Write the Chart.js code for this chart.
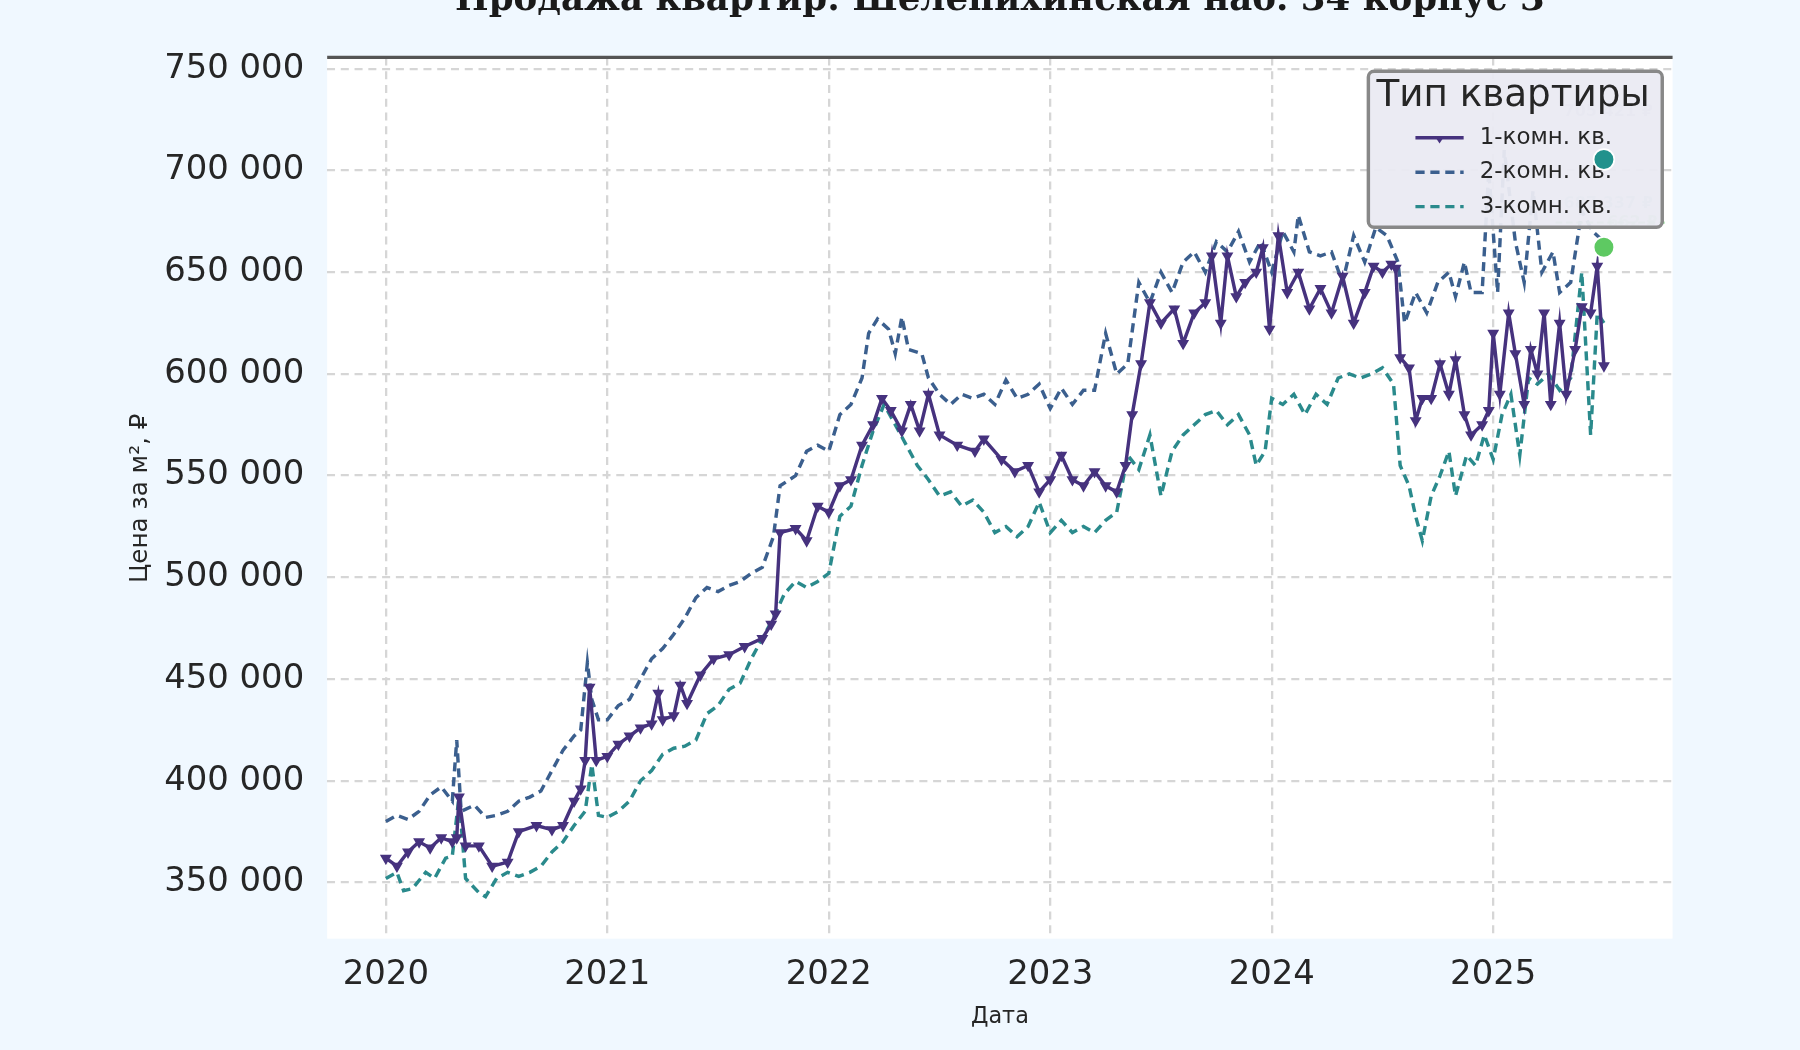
<!DOCTYPE html>
<html><head><meta charset="utf-8">
<script src="https://cdn.jsdelivr.net/npm/chart.js@4"></script>
<style>html,body{margin:0;padding:0;background:#f0f8ff;}canvas{display:block;}</style>
</head><body>
<canvas id="c" width="1800" height="1050"></canvas>
<script>
const title = "Продажа квартир: Шелепихинская наб. 34 корпус 3";
const seriesNames = ["1-комн. кв.", "2-комн. кв.", "3-комн. кв."];
const xTicks = [2020, 2021, 2022, 2023, 2024, 2025];
const yTicks = [350000, 400000, 450000, 500000, 550000, 600000, 650000, 700000, 750000];
// [year, thousand rubles]
const room1 = [[2020.0,362],[2020.05,358],[2020.1,365],[2020.15,370],[2020.2,367],[2020.25,372],[2020.3,370],[2020.32,372],[2020.33,392],[2020.36,368],[2020.42,368],[2020.48,358],[2020.55,360],[2020.6,375],[2020.68,378],[2020.75,376],[2020.8,378],[2020.85,390],[2020.88,396],[2020.9,410],[2020.92,446],[2020.95,410],[2021.0,412],[2021.05,418],[2021.1,422],[2021.15,426],[2021.2,428],[2021.23,443],[2021.25,430],[2021.3,432],[2021.33,447],[2021.36,438],[2021.42,452],[2021.48,460],[2021.55,462],[2021.62,466],[2021.7,470],[2021.74,477],[2021.76,482],[2021.78,522],[2021.85,524],[2021.9,518],[2021.95,535],[2022.0,532],[2022.05,545],[2022.1,548],[2022.15,565],[2022.2,575],[2022.24,588],[2022.28,582],[2022.33,572],[2022.37,585],[2022.41,572],[2022.45,590],[2022.5,570],[2022.58,565],[2022.66,562],[2022.7,568],[2022.78,558],[2022.84,552],[2022.9,555],[2022.95,542],[2023.0,548],[2023.05,560],[2023.1,548],[2023.15,545],[2023.2,552],[2023.25,545],[2023.3,542],[2023.34,555],[2023.37,580],[2023.41,605],[2023.45,635],[2023.5,625],[2023.56,632],[2023.6,615],[2023.65,630],[2023.7,635],[2023.73,658],[2023.77,625],[2023.8,658],[2023.84,638],[2023.88,645],[2023.93,650],[2023.96,662],[2023.99,622],[2024.03,668],[2024.07,640],[2024.12,650],[2024.17,632],[2024.22,642],[2024.27,630],[2024.32,648],[2024.37,625],[2024.42,640],[2024.46,653],[2024.5,650],[2024.54,654],[2024.56,652],[2024.58,608],[2024.62,603],[2024.65,577],[2024.68,588],[2024.72,588],[2024.76,605],[2024.8,590],[2024.83,607],[2024.87,580],[2024.9,570],[2024.95,575],[2024.98,582],[2025.0,620],[2025.03,590],[2025.07,630],[2025.1,610],[2025.14,585],[2025.17,612],[2025.2,600],[2025.23,630],[2025.26,585],[2025.3,625],[2025.33,590],[2025.37,612],[2025.4,633],[2025.44,630],[2025.47,653],[2025.5,604]];
const room2 = [[2020.0,380],[2020.05,383],[2020.1,381],[2020.15,385],[2020.2,393],[2020.25,397],[2020.3,390],[2020.32,420],[2020.34,385],[2020.4,388],[2020.45,382],[2020.5,383],[2020.55,385],[2020.6,390],[2020.65,392],[2020.7,395],[2020.75,405],[2020.8,415],[2020.85,422],[2020.88,425],[2020.91,458],[2020.93,440],[2020.96,430],[2021.0,430],[2021.05,437],[2021.1,440],[2021.15,450],[2021.2,460],[2021.25,465],[2021.3,472],[2021.35,480],[2021.4,490],[2021.45,495],[2021.5,493],[2021.55,496],[2021.6,498],[2021.65,502],[2021.7,505],[2021.75,520],[2021.78,545],[2021.85,550],[2021.9,562],[2021.95,565],[2022.0,562],[2022.05,580],[2022.1,585],[2022.15,598],[2022.18,620],[2022.22,627],[2022.27,622],[2022.3,610],[2022.33,628],[2022.36,612],[2022.42,610],[2022.45,598],[2022.5,590],[2022.55,585],[2022.6,590],[2022.65,588],[2022.7,590],[2022.75,585],[2022.8,597],[2022.85,588],[2022.9,590],[2022.95,595],[2023.0,583],[2023.05,593],[2023.1,585],[2023.15,592],[2023.2,592],[2023.25,620],[2023.3,600],[2023.35,605],[2023.4,645],[2023.45,635],[2023.5,650],[2023.55,640],[2023.6,655],[2023.65,660],[2023.7,650],[2023.75,665],[2023.8,660],[2023.85,670],[2023.9,655],[2023.95,665],[2024.0,650],[2024.05,670],[2024.1,660],[2024.12,678],[2024.17,660],[2024.22,658],[2024.27,660],[2024.32,645],[2024.37,668],[2024.42,655],[2024.47,672],[2024.52,668],[2024.57,655],[2024.6,625],[2024.65,640],[2024.7,630],[2024.75,645],[2024.8,650],[2024.83,638],[2024.87,655],[2024.9,640],[2024.95,640],[2024.98,700],[2025.02,640],[2025.05,710],[2025.1,665],[2025.14,645],[2025.18,690],[2025.22,650],[2025.27,660],[2025.3,640],[2025.35,645],[2025.4,680],[2025.45,670],[2025.5,665]];
const room3 = [[2020.0,352],[2020.05,355],[2020.08,346],[2020.12,347],[2020.18,355],[2020.22,352],[2020.27,362],[2020.3,363],[2020.33,392],[2020.36,352],[2020.42,345],[2020.45,343],[2020.5,352],[2020.55,355],[2020.6,353],[2020.65,355],[2020.7,358],[2020.75,365],[2020.8,370],[2020.85,378],[2020.9,385],[2020.93,408],[2020.96,383],[2021.0,382],[2021.05,385],[2021.1,390],[2021.15,400],[2021.2,405],[2021.25,413],[2021.3,416],[2021.35,417],[2021.4,420],[2021.45,433],[2021.5,437],[2021.55,445],[2021.6,448],[2021.65,460],[2021.7,470],[2021.75,480],[2021.8,492],[2021.85,498],[2021.9,495],[2021.95,498],[2022.0,502],[2022.05,530],[2022.1,535],[2022.15,555],[2022.2,572],[2022.25,585],[2022.3,575],[2022.35,565],[2022.4,555],[2022.45,548],[2022.5,540],[2022.55,542],[2022.6,535],[2022.65,538],[2022.7,532],[2022.75,522],[2022.8,525],[2022.85,520],[2022.9,525],[2022.95,537],[2023.0,522],[2023.05,528],[2023.1,522],[2023.15,525],[2023.2,522],[2023.25,528],[2023.3,532],[2023.35,560],[2023.4,553],[2023.45,570],[2023.5,540],[2023.55,562],[2023.6,570],[2023.65,575],[2023.7,580],[2023.75,582],[2023.8,575],[2023.85,580],[2023.9,570],[2023.93,555],[2023.97,562],[2024.0,588],[2024.05,585],[2024.1,590],[2024.15,580],[2024.2,590],[2024.25,585],[2024.3,598],[2024.35,600],[2024.4,598],[2024.45,600],[2024.5,603],[2024.55,595],[2024.58,555],[2024.62,545],[2024.65,530],[2024.68,518],[2024.72,540],[2024.76,550],[2024.8,562],[2024.83,540],[2024.88,560],[2024.92,555],[2024.96,570],[2025.0,558],[2025.04,580],[2025.08,590],[2025.12,560],[2025.16,598],[2025.2,595],[2025.25,600],[2025.3,592],[2025.35,598],[2025.4,650],[2025.44,570],[2025.47,630],[2025.5,625]];
const endDots = [[2025.5,705.4,"#21918c"],[2025.5,662.3,"#5ec962"]];

const S = 1800/1568;
const toPts = a => a.map(p => ({x:p[0], y:p[1]*1000}));
const fmt = v => String(Math.round(v)).replace(/\B(?=(\d{3})+(?!\d))/g, " ");
const colors = ["#46327e", "#3b5f8e", "#2a8a8c"];

function drawLegend(ctx){
  ctx.save();
  const x0=1192*S, y0=62*S, w=256*S, h=136*S;
  ctx.fillStyle='rgba(234,234,242,0.95)'; ctx.strokeStyle='#888'; ctx.lineWidth=3*S;
  ctx.beginPath(); ctx.roundRect(x0,y0,w,h,5*S); ctx.fill(); ctx.stroke();
  ctx.fillStyle='#262626'; ctx.textAlign='left'; ctx.textBaseline='middle';
  ctx.font=`${32.5*S}px "DejaVu Sans", sans-serif`;
  ctx.fillText("Тип квартиры", 1199*S, 84*S);
  ctx.font=`${20*S}px "DejaVu Sans", sans-serif`;
  seriesNames.forEach((n,i)=>{
    const yy=(120+30*i)*S;
    ctx.strokeStyle=colors[i]; ctx.lineWidth=3*S;
    ctx.setLineDash(i===0?[]:[8*S,5*S]);
    ctx.beginPath(); ctx.moveTo(1233*S,yy); ctx.lineTo(1275*S,yy); ctx.stroke();
    ctx.setLineDash([]);
    if(i===0){ctx.fillStyle=colors[0];ctx.beginPath();ctx.moveTo(1250*S,yy-1*S);ctx.lineTo(1258*S,yy-1*S);ctx.lineTo(1254*S,yy+5*S);ctx.fill();}
    ctx.fillStyle='#262626'; ctx.fillText(n, 1289*S, yy);
  });
  ctx.restore();
}

const overlay = {
  id:'overlay',
  beforeDraw(ch){
    const {ctx, chartArea:a} = ch;
    ctx.save(); ctx.fillStyle='#ffffff'; ctx.fillRect(a.left,a.top,a.right-a.left,a.bottom-a.top); ctx.restore();
  },
  beforeDatasetDraw(ch, args){
    if(args.index!==3) return;
    const ctx = ch.ctx;
    ctx.save();
    ctx.font=`bold ${14*S}px "DejaVu Sans", sans-serif`; ctx.textAlign='left';
    ctx.fillStyle='rgba(59,95,142,0.35)'; ctx.fillText("705 421 ₽", 1362*S, 101*S);
    ctx.fillStyle='rgba(33,145,140,0.35)'; ctx.fillText("687 337 ₽", 1362*S, 181*S);
    ctx.fillStyle='rgba(94,201,98,0.5)'; ctx.fillText("662 ₽", 1400*S, 198*S);
    ctx.strokeStyle='rgba(94,201,98,0.7)'; ctx.setLineDash([6*S,3*S]); ctx.lineWidth=2*S;
    ctx.beginPath(); ctx.moveTo(1355*S,194*S); ctx.lineTo(1450*S,194*S); ctx.stroke();
    ctx.restore();
    drawLegend(ctx);
  },
  afterDraw(ch){
    const {ctx, chartArea:a} = ch;
    ctx.save();
    ctx.strokeStyle='#555'; ctx.lineWidth=3*S;
    ctx.beginPath(); ctx.moveTo(a.left,a.top); ctx.lineTo(a.right,a.top); ctx.stroke();
    ctx.fillStyle='#1a1a1a'; ctx.textAlign='center'; ctx.textBaseline='alphabetic';
    ctx.font=`bold ${31*S}px "DejaVu Serif", serif`;
    ctx.fillText(title, (a.left+a.right)/2, 9*S);
    ctx.font=`${19.5*S}px "DejaVu Sans", sans-serif`; ctx.fillStyle='#262626';
    ctx.fillText("Дата", (a.left+a.right)/2, 891*S);
    ctx.translate(128*S, 434*S); ctx.rotate(-Math.PI/2);
    ctx.font=`${21.5*S}px "DejaVu Sans", sans-serif`;
    ctx.fillText("Цена за м², ₽", 0, 0);
    ctx.restore();
  }
};

new Chart(document.getElementById('c'), {
  type:'scatter',
  data:{datasets:[
    {label:seriesNames[2], data:toPts(room3), showLine:true, borderColor:colors[2], borderWidth:3*S, borderDash:[8*S,5*S], pointRadius:0, order:3},
    {label:seriesNames[1], data:toPts(room2), showLine:true, borderColor:colors[1], borderWidth:3*S, borderDash:[8*S,5*S], pointRadius:0, order:2},
    {label:seriesNames[0], data:toPts(room1), showLine:true, borderColor:colors[0], backgroundColor:colors[0], borderWidth:3*S, pointStyle:'triangle', rotation:180, pointRadius:3*S, order:1},
    {label:'end', data:endDots.map(d=>({x:d[0],y:d[1]*1000})), pointBackgroundColor:endDots.map(d=>d[2]), pointBorderColor:'#ffffff', pointBorderWidth:1.5*S, pointRadius:9*S, order:0}
  ]},
  options:{
    responsive:false, devicePixelRatio:1, animation:false,
    layout:{padding:{left:0,right:1800-1457*S,top:50*S,bottom:0}},
    plugins:{legend:{display:false}, tooltip:{enabled:false}},
    scales:{
      x:{type:'linear', min:2019.735, max:2025.81,
        afterBuildTicks:s=>{s.ticks=xTicks.map(v=>({value:v}));},
        afterFit:s=>{s.height=(915-818)*S;},
        ticks:{callback:v=>String(v), color:'#262626', font:{size:29.5*S, family:'"DejaVu Sans", sans-serif'}, padding:14*S, maxRotation:0},
        grid:{color:'#d6d6d6', lineWidth:2*S, drawTicks:false}, border:{display:false, dash:[7*S,5*S]}},
      y:{min:322400, max:755600,
        afterBuildTicks:s=>{s.ticks=yTicks.map(v=>({value:v}));},
        afterFit:s=>{s.width=285*S;},
        ticks:{callback:v=>fmt(v), color:'#262626', font:{size:29.5*S, family:'"DejaVu Sans", sans-serif'}, padding:20*S},
        grid:{color:'#d6d6d6', lineWidth:2*S, drawTicks:false}, border:{display:false, dash:[7*S,5*S]}}
    }
  },
  plugins:[overlay]
});
</script></body></html>
